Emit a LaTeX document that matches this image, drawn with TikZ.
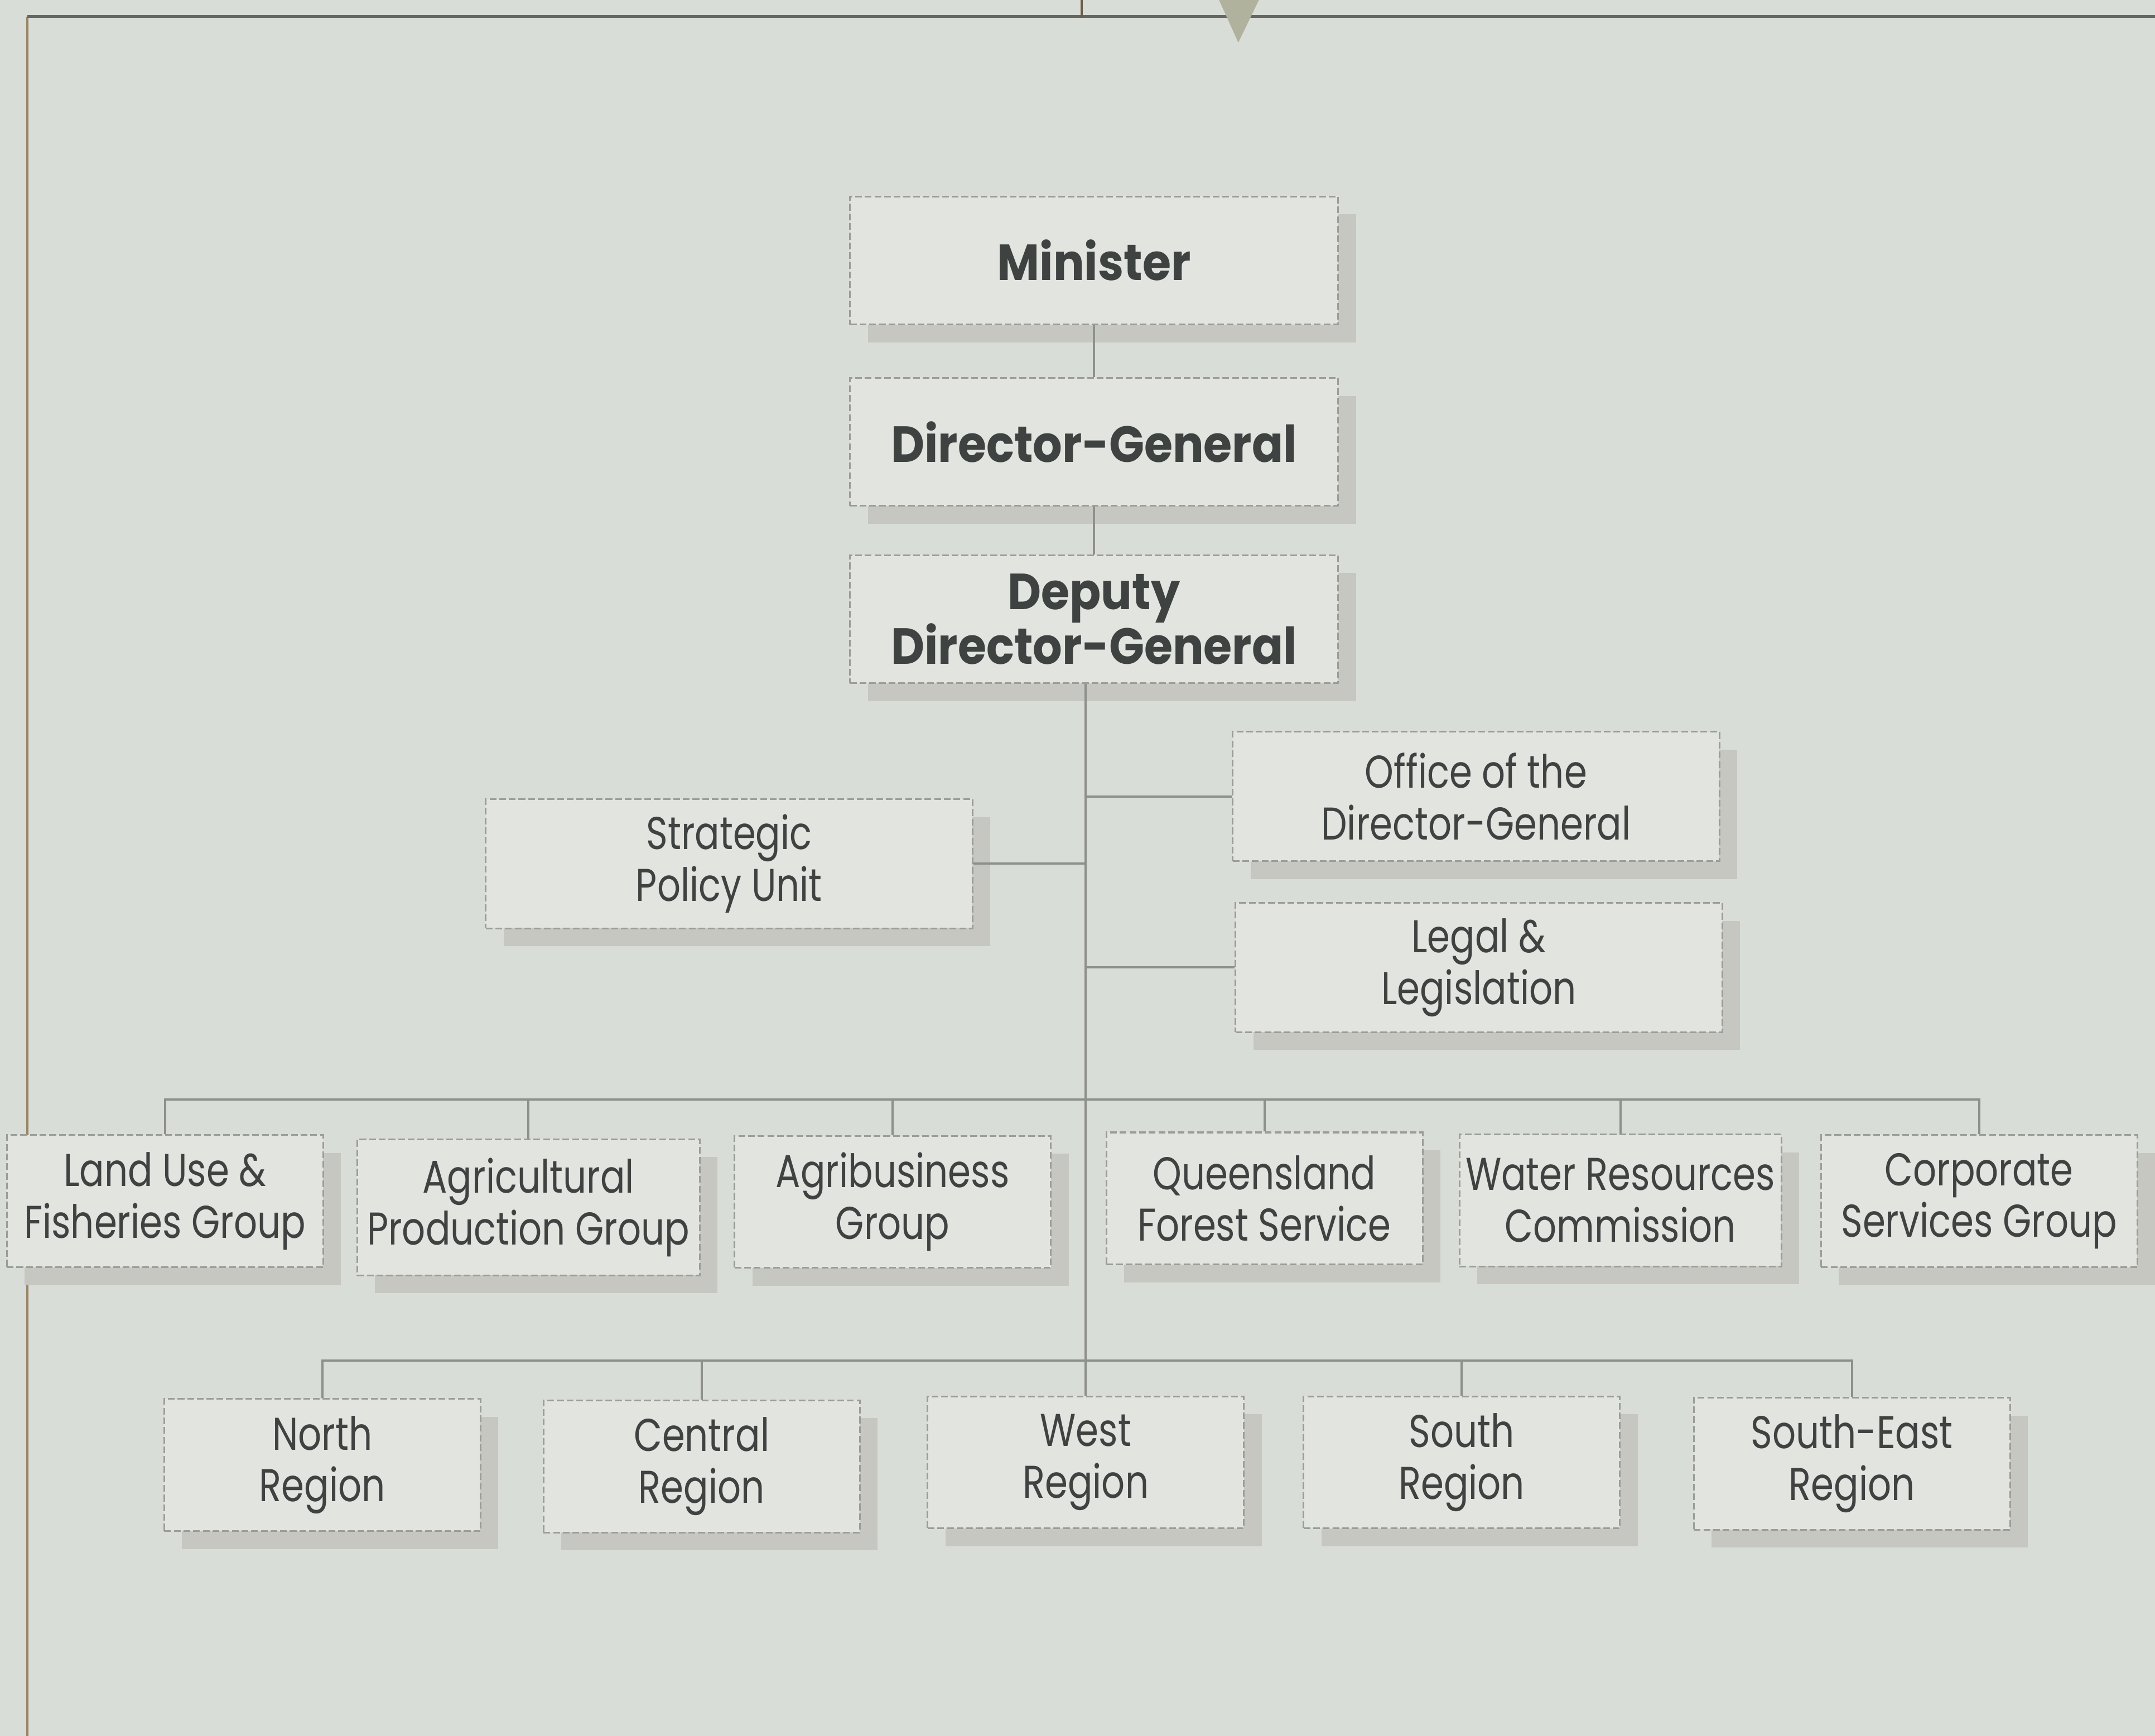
\documentclass[tikz,border=0pt]{standalone}
\usepackage{fontspec}
\setmainfont{Poppins}[FakeStretch=0.80]
\newfontfamily\boldf{Poppins}[FakeStretch=0.91]
\usetikzlibrary{shadows}
\definecolor{bgc}{HTML}{D9DDD7}
\definecolor{boxc}{HTML}{E2E4E0}
\definecolor{shc}{HTML}{C6C7C1}
\definecolor{bordc}{HTML}{9C9D98}
\definecolor{linec}{HTML}{8E908B}
\definecolor{txtc}{HTML}{3E4241}
\definecolor{framec}{HTML}{656862}
\definecolor{leftc}{HTML}{9A8466}
\definecolor{arrc}{HTML}{B1B29E}
\begin{document}
\begin{tikzpicture}[x=0.01cm,y=-0.01cm,
  unitbox/.style={draw=bordc, line width=0.35pt, dash pattern=on 1.4pt off 0.6pt,
    fill=boxc, text=txtc, inner sep=0pt, align=center,
    font=\fontsize{9.5}{10.7}\selectfont,
    drop shadow={shadow xshift=0.13cm, shadow yshift=-0.13cm, fill=shc, opacity=1}},
  topbox/.style={unitbox, minimum width=3.55cm, minimum height=0.93cm,
    font=\boldf\bfseries\fontsize{10.5}{11.4}\selectfont},
  midbox/.style={unitbox, minimum width=3.54cm, minimum height=0.94cm},
  grpbox/.style={unitbox, minimum width=2.3cm, minimum height=0.96cm},
  conn/.style={draw=linec, line width=0.45pt}]
\useasboundingbox (0,0) rectangle (1568,1263);
\fill[bgc] (0,0) rectangle (1568,1263);
% frame
\draw[leftc, line width=0.45pt] (20,12) -- (20,1263);
\draw[framec, line width=0.6pt] (20,12) -- (1568,12);
\draw[leftc!70!black, line width=0.45pt] (787,0) -- (787,12);
\fill[arrc] (887,0) -- (916,0) -- (901,31) -- cycle;
% top chain
\node[topbox] (min) at (796,189.5) {Minister};
\node[topbox] (dg) at (796,321.5) {Director-General};
\node[topbox] (ddg) at (796,450.5) {Deputy\\Director-General};
% staff units
\node[midbox] (office) at (1074,579.5) {Office of the\\Director-General};
\node[midbox] (strat) at (530.5,628.5) {Strategic\\Policy Unit};
\node[midbox] (legal) at (1076,704) {Legal \&\\Legislation};
% groups
\node[grpbox] (land) at (120,874) {Land Use \&\\Fisheries Group};
\node[grpbox, minimum width=2.49cm, minimum height=0.99cm] (agri) at (384.5,878.5) {Agricultural\\Production Group};
\node[grpbox] (agbus) at (649.5,874.5) {Agribusiness\\Group};
\node[grpbox] (qfs) at (920,872) {Queensland\\Forest Service};
\node[grpbox, minimum width=2.34cm] (water) at (1179,873.5) {Water Resources\\Commission};
\node[grpbox] (corp) at (1440,874) {Corporate\\Services Group};
% regions
\node[grpbox] (north) at (234.5,1066) {North\\Region};
\node[grpbox] (central) at (510.5,1067) {Central\\Region};
\node[grpbox] (west) at (790,1064) {West\\Region};
\node[grpbox] (south) at (1063.5,1064) {South\\Region};
\node[grpbox] (se) at (1347.5,1065) {South-East\\Region};
% connectors
\coordinate (gb) at (0,800);
\coordinate (rb) at (0,990);
\draw[conn] (min) -- (dg);
\draw[conn] (dg) -- (ddg);
\draw[conn] (ddg.south -| west.north) -- (west.north);
\draw[conn] (office.west -| west.north) -- (office.west);
\draw[conn] (strat.east) -- (strat.east -| west.north);
\draw[conn] (legal.west -| west.north) -- (legal.west);
\draw[conn] (land.north) |- (gb -| corp.north) -- (corp.north);
\draw[conn] (agri.north) -- (agri.north |- gb);
\draw[conn] (agbus.north) -- (agbus.north |- gb);
\draw[conn] (qfs.north) -- (qfs.north |- gb);
\draw[conn] (water.north) -- (water.north |- gb);
\draw[conn] (north.north) |- (rb -| se.north) -- (se.north);
\draw[conn] (central.north) -- (central.north |- rb);
\draw[conn] (south.north) -- (south.north |- rb);
\end{tikzpicture}
\end{document}
